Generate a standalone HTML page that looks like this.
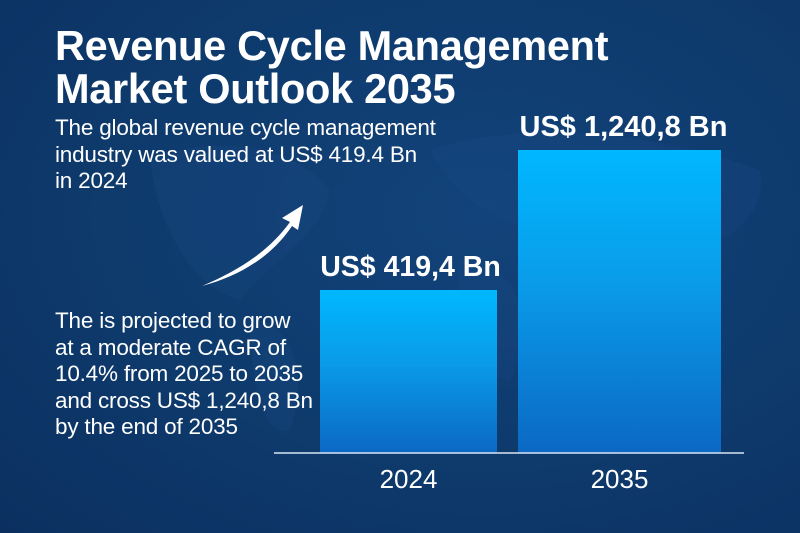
<!DOCTYPE html>
<html><head><meta charset="utf-8">
<style>
html,body{margin:0;padding:0}
body{width:800px;height:533px;overflow:hidden;font-family:"Liberation Sans",sans-serif;
background:radial-gradient(ellipse at 60% 40%,#12437a 0%,#0e3a6c 55%,#0b3060 100%);position:relative;color:#fff}
.t{position:absolute;left:55px;top:24px;font-size:41.5px;font-weight:bold;line-height:43px;letter-spacing:-0.3px}
.p{position:absolute;left:55px;font-size:22.5px;line-height:26.5px;letter-spacing:-0.2px}
</style></head>
<body>
<svg width="800" height="533" style="position:absolute;left:0;top:0">
<g fill="#1a4c86" opacity="0.25">
<path d="M150 160 C220 130 300 150 330 190 C320 240 270 260 240 300 C200 290 160 240 150 160Z"/>
<path d="M250 320 C290 320 310 370 290 430 C270 440 250 400 250 320Z"/>
<path d="M430 150 C520 120 650 130 760 170 C770 230 700 260 640 250 C560 240 470 230 430 150Z"/>
<path d="M460 260 C520 260 540 330 510 380 C480 380 450 320 460 260Z"/>
</g>
</svg>
<div class="t">Revenue Cycle Management<br>Market Outlook 2035</div>
<div class="p" style="top:115px">The global revenue cycle management<br>industry was valued at US$ 419.4 Bn<br>in 2024</div>
<div class="p" style="top:308px">The is projected to grow<br>at a moderate CAGR of<br>10.4% from 2025 to 2035<br>and cross US$ 1,240,8 Bn<br>by the end of 2035</div>
<svg id="chart" width="800" height="533" style="position:absolute;left:0;top:0">
<defs>
<linearGradient id="bg" x1="0" y1="0" x2="0" y2="1">
<stop offset="0" stop-color="#00b8ff"/><stop offset="0.45" stop-color="#0a9be8"/><stop offset="1" stop-color="#0b68c4"/>
</linearGradient>
</defs>
<path d="M202 286 C240 270 270 250 290 222 L282 218 L303 205 L298 230 L292 226 C272 256 240 276 202 286Z" fill="#fff"/>
</svg>
<script>
const categories=["2024","2035"];
const values=[419.4,1240.8];
const valueLabels=["US$ 419,4 Bn","US$ 1,240,8 Bn"];
const svg=document.getElementById('chart');
const NS='http://www.w3.org/2000/svg';
const baseY=453, topY=150, dMin=-537, dMax=1240.8;
function yScale(v){return baseY-(v-dMin)/(dMax-dMin)*(baseY-topY);}
const barX=[320,518], barW=[177,203];
function mk(t,a){const e=document.createElementNS(NS,t);for(const k in a)e.setAttribute(k,a[k]);svg.appendChild(e);return e;}
categories.forEach((c,i)=>{
  const y=yScale(values[i]);
  const r=mk('rect',{x:barX[i],y:y,width:barW[i],height:baseY-y,fill:'url(#bg)'});
  
  
  const l=mk('text',{x:barX[i]+barW[i]/2+(i?4:2),y:y-14,'text-anchor':'middle','font-size':i?29:28.5,'font-weight':'bold',fill:'#fff','font-family':'Liberation Sans, sans-serif'});
  l.textContent=valueLabels[i];
  
  
  const x=mk('text',{x:barX[i]+barW[i]/2,y:488,'text-anchor':'middle','font-size':26,fill:'#fff','font-family':'Liberation Sans, sans-serif'});
  x.textContent=c;
  
  
});
const bl=mk('line',{x1:274,x2:744,y1:baseY,y2:baseY,stroke:'#d8e6f5','stroke-width':1.5});


</script>
</body></html>
